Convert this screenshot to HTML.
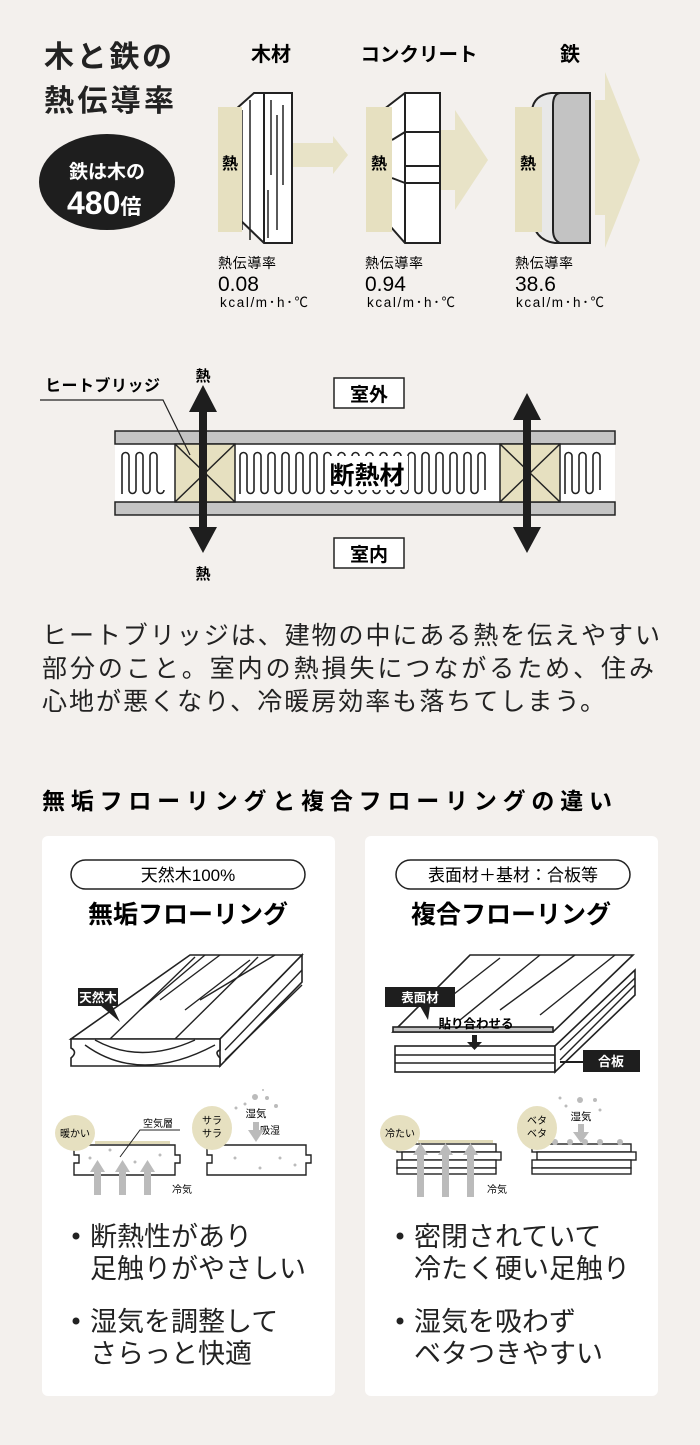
<!DOCTYPE html>
<html><head><meta charset="utf-8">
<style>
html,body{margin:0;padding:0;background:#f3f0ed;}
body{width:700px;height:1440px;overflow:hidden;font-family:"Liberation Sans","Noto Sans CJK JP",sans-serif;color:#222;}
svg text{font-family:"Liberation Sans","Noto Sans CJK JP",sans-serif;}
</style></head><body>
<svg width="700" height="1440" viewBox="0 0 700 1440" xmlns="http://www.w3.org/2000/svg">
<rect width="700" height="1440" fill="#f3f0ed"/>
<!-- Title -->
<text x="44" y="67" font-size="30" font-weight="bold" fill="#222" textLength="128">木と鉄の</text>
<text x="44" y="111" font-size="30" font-weight="bold" fill="#222" textLength="130">熱伝導率</text>
<ellipse cx="107" cy="182" rx="68" ry="48" fill="#1e1e1e"/>
<text x="107" y="178" font-size="19" fill="#fff" text-anchor="middle" font-weight="bold">鉄は木の</text>
<text x="67" y="214" font-size="32" fill="#fff" font-weight="bold">480<tspan font-size="21">倍</tspan></text>
<!-- headers -->
<text x="271" y="61" font-size="20" font-weight="bold" text-anchor="middle">木材</text>
<text x="419" y="61" font-size="19.5" font-weight="bold" text-anchor="middle">コンクリート</text>
<text x="570" y="61" font-size="20" font-weight="bold" text-anchor="middle">鉄</text>
<!-- wood -->
<polygon points="293,143 333,143 333,136 348,155 333,174 333,167 293,167" fill="#e8e3c7"/>
<g fill="#fff" stroke="#222" stroke-width="2">
<polygon points="254,93 292,93 292,243 264,243 235,215 235,110"/>
<line x1="264" y1="93" x2="264" y2="243"/>
</g>
<g stroke="#222" stroke-width="1.5">
<line x1="242" y1="110" x2="242" y2="230"/><line x1="250" y1="100" x2="250" y2="240"/>
<line x1="271" y1="100" x2="271" y2="175"/><line x1="277" y1="115" x2="277" y2="230"/><line x1="283" y1="105" x2="283" y2="185"/><line x1="268" y1="190" x2="268" y2="238"/>
</g>
<rect x="218" y="107" width="24" height="125" fill="#e6e0c0"/>
<text x="230" y="169" font-size="16" font-weight="bold" text-anchor="middle">熱</text>
<!-- concrete -->
<polygon points="440,130 455,130 455,110 488,160 455,210 455,190 440,190" fill="#e8e3c7"/>
<g fill="#fff" stroke="#222" stroke-width="2">
<polygon points="405,93 440,93 440,243 405,243 383,218 383,110"/>
<line x1="405" y1="93" x2="405" y2="243"/>
<line x1="405" y1="166" x2="440" y2="166"/><line x1="405" y1="132" x2="440" y2="132"/><line x1="405" y1="183" x2="440" y2="183"/>
<polyline points="405,132 392,140" fill="none"/><polyline points="405,183 392,178" fill="none"/>
</g>
<rect x="366" y="107" width="26" height="125" fill="#e6e0c0"/>
<text x="379" y="169" font-size="16" font-weight="bold" text-anchor="middle">熱</text>
<!-- iron -->
<polygon points="595,100 605,100 605,72 640,160 605,248 605,215 595,215" fill="#e8e3c7"/>
<path d="M551,93 L590,93 L590,243 L555,243 Q533,240 532,215 L532,110 Q534,95 551,93Z" fill="#e8e8e8" stroke="#222" stroke-width="2"/>
<path d="M560,93 L590,93 L590,243 L560,243 Q553,240 553,230 L553,105 Q553,94 560,93Z" fill="#c3c3c3" stroke="#222" stroke-width="2"/>
<rect x="515" y="107" width="27" height="125" fill="#e6e0c0"/>
<text x="528" y="169" font-size="16" font-weight="bold" text-anchor="middle">熱</text>
<!-- values -->
<g font-size="14"><text x="218" y="268" textLength="58">熱伝導率</text><text x="365" y="268" textLength="58">熱伝導率</text><text x="515" y="268" textLength="58">熱伝導率</text></g>
<g font-size="21"><text x="218" y="291">0.08</text><text x="365" y="291">0.94</text><text x="515" y="291">38.6</text></g>
<g font-size="13.5"><text x="220" y="307" textLength="88">kcal/m･h･℃</text><text x="367" y="307" textLength="88">kcal/m･h･℃</text><text x="516" y="307" textLength="88">kcal/m･h･℃</text></g>

<!-- wall -->
<rect x="115" y="430" width="500" height="86" fill="#fff"/>
<rect x="115" y="431" width="500" height="13" fill="#c4c4c4" stroke="#222" stroke-width="1.5"/>
<rect x="115" y="502" width="500" height="13" fill="#c4c4c4" stroke="#222" stroke-width="1.5"/>
<g id="waves" fill="none" stroke="#222" stroke-width="1.6"></g>
<g stroke="#222" stroke-width="1.5">
<rect x="175" y="444" width="60" height="58" fill="#e6e0c0"/><line x1="175" y1="444" x2="235" y2="502"/><line x1="235" y1="444" x2="175" y2="502"/>
<rect x="500" y="444" width="60" height="58" fill="#e6e0c0"/><line x1="500" y1="444" x2="560" y2="502"/><line x1="560" y1="444" x2="500" y2="502"/>
</g>
<rect x="326" y="456" width="82" height="34" fill="#fff"/>
<text x="367" y="484" font-size="25" font-weight="bold" text-anchor="middle">断熱材</text>
<!-- arrows -->
<g fill="#1e1e1e">
<rect x="199" y="405" width="8" height="130"/><polygon points="203,385 189,412 217,412"/><polygon points="203,553 189,527 217,527"/>
<rect x="523" y="410" width="8" height="125"/><polygon points="527,393 513,420 541,420"/><polygon points="527,553 513,527 541,527"/>
</g>
<text x="203" y="381" font-size="15" font-weight="bold" text-anchor="middle">熱</text>
<text x="203" y="579" font-size="15" font-weight="bold" text-anchor="middle">熱</text>
<text x="45" y="391" font-size="16" font-weight="bold" textLength="115">ヒートブリッジ</text>
<polyline points="40,400 163,400 190,455" fill="none" stroke="#222" stroke-width="1.2"/>
<rect x="334" y="378" width="70" height="30" fill="#fff" stroke="#222" stroke-width="1.5"/>
<text x="369" y="401" font-size="19" font-weight="bold" text-anchor="middle">室外</text>
<rect x="334" y="538" width="70" height="30" fill="#fff" stroke="#222" stroke-width="1.5"/>
<text x="369" y="561" font-size="19" font-weight="bold" text-anchor="middle">室内</text>

<!-- paragraph -->
<g font-size="25" fill="#222">
<text x="42" y="644" textLength="618">ヒートブリッジは、建物の中にある熱を伝えやすい</text>
<text x="42" y="677" textLength="612">部分のこと。室内の熱損失につながるため、住み</text>
<text x="42" y="710" textLength="563">心地が悪くなり、冷暖房効率も落ちてしまう。</text>
</g>
<text x="42" y="809" font-size="23" font-weight="bold" textLength="570">無垢フローリングと複合フローリングの違い</text>

<!-- cards -->
<rect x="42" y="836" width="293" height="560" rx="6" fill="#fff"/>
<rect x="365" y="836" width="293" height="560" rx="6" fill="#fff"/>
<rect x="71" y="860" width="234" height="29" rx="14.5" fill="#fff" stroke="#222" stroke-width="1.5"/>
<text x="188" y="881" font-size="17" text-anchor="middle">天然木100%</text>
<rect x="396" y="860" width="234" height="29" rx="14.5" fill="#fff" stroke="#222" stroke-width="1.5"/>
<text x="513" y="881" font-size="17" text-anchor="middle">表面材＋基材：合板等</text>
<text x="188" y="923" font-size="25" font-weight="bold" text-anchor="middle">無垢フローリング</text>
<text x="511" y="923" font-size="25" font-weight="bold" text-anchor="middle">複合フローリング</text>

<!-- solid board -->
<g fill="#fff" stroke="#222" stroke-width="1.6">
<polygon points="71,1039 220,1039 302,955 190,955"/>
<polygon points="220,1039 220,1066 302,982 302,955"/>
<path d="M71,1039 H220 V1050 Q214,1052 220,1058 V1066 H71 V1058 Q78,1052 71,1048Z"/>
</g>
<g stroke="#222" stroke-width="1.4" fill="none">
<path d="M95,1040 Q140,1065 195,1040"/><path d="M85,1045 Q140,1085 215,1045"/>
<line x1="110" y1="1039" x2="195" y2="957"/><line x1="140" y1="1010" x2="205" y2="955"/><line x1="160" y1="1000" x2="220" y2="955"/>
<line x1="175" y1="1039" x2="258" y2="957"/><line x1="185" y1="1010" x2="250" y2="960"/><line x1="200" y1="1000" x2="275" y2="955"/>
<line x1="225" y1="1060" x2="302" y2="985"/><line x1="225" y1="1050" x2="302" y2="970"/>
</g>
<rect x="78" y="988" width="40" height="18" fill="#1e1e1e"/>
<polygon points="100,1005 112,1005 120,1022" fill="#1e1e1e"/>
<text x="98" y="1002" font-size="12.5" font-weight="bold" fill="#fff" text-anchor="middle">天然木</text>

<!-- composite board -->
<g fill="#fff" stroke="#222" stroke-width="1.6">
<polygon points="393,1032 553,1032 633,955 470,955"/>
<rect x="393" y="1027" width="160" height="5" fill="#c4c4c4"/>
<rect x="395" y="1046" width="160" height="26"/>
<line x1="395" y1="1055" x2="555" y2="1055"/><line x1="395" y1="1063" x2="555" y2="1063"/>
<polygon points="555,1046 555,1072 635,995 635,970"/>
</g>
<g stroke="#222" stroke-width="1.4">
<line x1="440" y1="1005" x2="500" y2="958"/><line x1="460" y1="1020" x2="540" y2="955"/><line x1="500" y1="1010" x2="575" y2="955"/><line x1="540" y1="1015" x2="615" y2="955"/>
<line x1="560" y1="1060" x2="635" y2="985"/><line x1="560" y1="1050" x2="635" y2="978"/>
</g>
<rect x="385" y="987" width="70" height="20" fill="#1e1e1e"/>
<polygon points="420,1006 430,1006 428,1020" fill="#1e1e1e"/>
<text x="420" y="1002" font-size="12.5" font-weight="bold" fill="#fff" text-anchor="middle">表面材</text>
<text x="476" y="1028" font-size="12.5" font-weight="bold" text-anchor="middle">貼り合わせる</text>
<rect x="472" y="1035" width="5" height="8" fill="#1e1e1e"/><polygon points="467,1042 482,1042 474.5,1050" fill="#1e1e1e"/>
<rect x="583" y="1050" width="57" height="22" fill="#1e1e1e"/>
<line x1="560" y1="1062" x2="583" y2="1062" stroke="#1e1e1e" stroke-width="2"/>
<text x="611" y="1066" font-size="13" font-weight="bold" fill="#fff" text-anchor="middle">合板</text>

<!-- small diagrams card1 -->
<rect x="95" y="1141" width="75" height="3" fill="#e0dab8"/>
<g fill="#fff" stroke="#222" stroke-width="1.4">
<path d="M74,1145 H175 V1155 H180 V1163 H175 V1175 H74 V1163 H79 V1155 H74Z"/>
<path d="M207,1145 H306 V1155 H311 V1163 H306 V1175 H207 V1163 H212 V1155 H207Z"/>
</g>
<ellipse cx="75" cy="1133" rx="20" ry="18" fill="#e6e0c0"/>
<text x="75" y="1137" font-size="10" text-anchor="middle">暖かい</text>
<ellipse cx="212" cy="1128" rx="20" ry="22" fill="#e6e0c0"/>
<text x="212" y="1124" font-size="10" text-anchor="middle">サラ</text><text x="212" y="1137" font-size="10" text-anchor="middle">サラ</text>
<text x="158" y="1127" font-size="10" text-anchor="middle">空気層</text>
<polyline points="180,1130 140,1130 120,1157" fill="none" stroke="#222" stroke-width="1"/>
<text x="270" y="1134" font-size="10" text-anchor="middle">吸湿</text>
<text x="256" y="1117" font-size="10.5" text-anchor="middle">湿気</text>
<rect x="253" y="1122" width="6" height="8" fill="#bbb"/><polygon points="248,1130 264,1130 256,1142" fill="#bbb"/>
<g fill="#bbb"><circle cx="255" cy="1097" r="3"/><circle cx="245" cy="1104" r="1.5"/><circle cx="267" cy="1098" r="2"/><circle cx="276" cy="1106" r="2"/><circle cx="236" cy="1108" r="1.5"/><circle cx="263" cy="1090" r="1"/></g>
<g fill="#bbb">
<rect x="94" y="1170" width="7" height="25"/><polygon points="90,1172 105,1172 97.5,1160"/>
<rect x="119" y="1170" width="7" height="25"/><polygon points="115,1172 130,1172 122.5,1160"/>
<rect x="144" y="1170" width="7" height="25"/><polygon points="140,1172 155,1172 147.5,1160"/>
</g>
<g fill="#bbb"><circle cx="90" cy="1158" r="1.5"/><circle cx="110" cy="1150" r="1.5"/><circle cx="135" cy="1162" r="1.5"/><circle cx="160" cy="1155" r="1.5"/><circle cx="235" cy="1158" r="1.5"/><circle cx="260" cy="1168" r="1.5"/><circle cx="280" cy="1158" r="1.5"/><circle cx="295" cy="1165" r="1.5"/></g>
<text x="172" y="1193" font-size="10">冷気</text>
<!-- card2 small -->
<rect x="418" y="1140" width="75" height="3" fill="#e0dab8"/>
<g fill="#fff" stroke="#222" stroke-width="1.4">
<rect x="397" y="1144" width="99" height="8"/><rect x="402" y="1152" width="99" height="8"/><rect x="397" y="1160" width="99" height="8"/><rect x="397" y="1168" width="99" height="6"/>
<rect x="532" y="1144" width="99" height="8"/><rect x="537" y="1152" width="99" height="8"/><rect x="532" y="1160" width="99" height="8"/><rect x="532" y="1168" width="99" height="6"/>
</g>
<g fill="#bbb">
<rect x="417" y="1152" width="7" height="45"/><polygon points="413,1155 428,1155 420.5,1143"/>
<rect x="442" y="1152" width="7" height="45"/><polygon points="438,1155 453,1155 445.5,1143"/>
<rect x="467" y="1152" width="7" height="45"/><polygon points="463,1155 478,1155 470.5,1143"/>
<circle cx="555" cy="1142" r="3"/><circle cx="570" cy="1142" r="3"/><circle cx="585" cy="1142" r="3"/><circle cx="600" cy="1142" r="3"/><circle cx="620" cy="1142" r="3"/>
<circle cx="580" cy="1100" r="3"/><circle cx="566" cy="1106" r="1.5"/><circle cx="595" cy="1100" r="2"/><circle cx="600" cy="1110" r="1.5"/><circle cx="560" cy="1098" r="1.5"/>
<rect x="578" y="1124" width="6" height="8"/><polygon points="573,1132 589,1132 581,1143"/>
</g>
<ellipse cx="400" cy="1133" rx="20" ry="18" fill="#e6e0c0"/>
<text x="400" y="1137" font-size="10" text-anchor="middle">冷たい</text>
<ellipse cx="537" cy="1128" rx="20" ry="22" fill="#e6e0c0"/>
<text x="537" y="1124" font-size="10" text-anchor="middle">ベタ</text><text x="537" y="1137" font-size="10" text-anchor="middle">ベタ</text>
<text x="581" y="1120" font-size="10.5" text-anchor="middle">湿気</text>
<text x="487" y="1193" font-size="10">冷気</text>

<!-- bullets -->
<g font-size="27" fill="#222">
<circle cx="76" cy="1236" r="3.5" fill="#222"/>
<text x="90" y="1246">断熱性があり</text><text x="90" y="1278">足触りがやさしい</text>
<circle cx="76" cy="1321" r="3.5" fill="#222"/>
<text x="90" y="1331">湿気を調整して</text><text x="90" y="1363">さらっと快適</text>
<circle cx="400" cy="1236" r="3.5" fill="#222"/>
<text x="414" y="1246">密閉されていて</text><text x="414" y="1278">冷たく硬い足触り</text>
<circle cx="400" cy="1321" r="3.5" fill="#222"/>
<text x="414" y="1331">湿気を吸わず</text><text x="414" y="1363">ベタつきやすい</text>
</g>
</svg>
<script>
(function(){
var g=document.getElementById('waves');var d='';
var segs=[[118,175],[236,500],[561,612]];
segs.forEach(function(s){
 var x=s[0]+4,w=14,top=452,bot=494,up=true;
 d+='M'+x+','+bot;
 while(x+w<=s[1]-2){
  if(up){d+=' L'+x+','+(top+4)+' A3.5,3.5 0 0 1 '+(x+7)+','+(top+4)+' L'+(x+7)+','+(bot-4);}
  else{d+=' A3.5,3.5 0 0 0 '+(x+7)+','+(bot-4);}
  x+=7;up=!up;
 }
});
var p=document.createElementNS('http://www.w3.org/2000/svg','path');p.setAttribute('d',d);g.appendChild(p);
})();
</script>
</body></html>
